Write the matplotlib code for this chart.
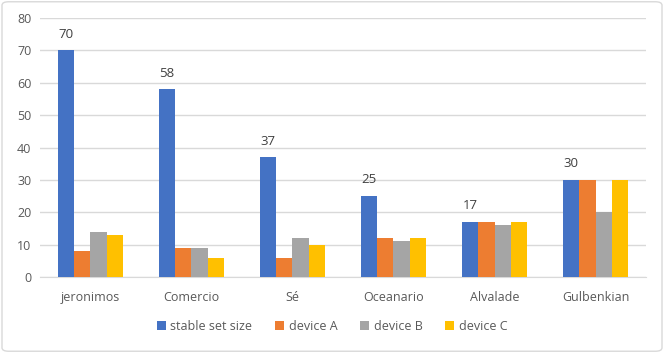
import matplotlib
matplotlib.use("Agg")
import matplotlib.pyplot as plt
import numpy as np
from matplotlib.patches import FancyBboxPatch

categories = ["jeronimos", "Comercio", "Sé", "Oceanario", "Alvalade", "Gulbenkian"]
stable = [70, 58, 37, 25, 17, 30]
device_a = [8, 9, 6, 12, 17, 30]
device_b = [14, 9, 12, 11, 16, 20]
device_c = [13, 6, 10, 12, 17, 30]
series_names = ["stable set size", "device A", "device B", "device C"]
colors = ["#4472C4", "#ED7D31", "#A5A5A5", "#FFC000"]
yticks = [0, 10, 20, 30, 40, 50, 60, 70, 80]

plt.rcParams['font.family'] = ['Open Sans', 'DejaVu Sans']
txt = "#595959"

fig = plt.figure(figsize=(6.64, 3.53), dpi=100)
ax = fig.add_axes([0.060, 0.215, 0.913, 0.734])

x = np.arange(len(categories))
w = 0.16
all_series = [stable, device_a, device_b, device_c]
for i, (vals, name, c) in enumerate(zip(all_series, series_names, colors)):
    bars = ax.bar(x + (i - 1.5) * w, vals, w, color=c, label=name, zorder=3)
    if i == 0:
        for b, v in zip(bars, vals):
            ax.text(b.get_x() + b.get_width() / 2, v + 3, str(v), ha="center", va="bottom",
                    fontsize=9.5, color="#404040")

ax.set_xlim(-0.5, len(categories) - 0.5)
ax.set_ylim(0, 80)
ax.set_yticks(yticks)
ax.set_xticks(x)
ax.set_xticklabels(categories)
ax.yaxis.grid(True, color="#D9D9D9", linewidth=1, zorder=0)
for s in ["top", "right", "left"]:
    ax.spines[s].set_visible(False)
ax.spines["bottom"].set_color("#D9D9D9")
ax.tick_params(axis="both", length=0, labelsize=9, colors=txt, pad=6)
ax.tick_params(axis="x", pad=10)

leg = fig.legend(loc="center", bbox_to_anchor=(0.5, 0.075), ncol=4, frameon=False,
                 fontsize=9, handlelength=0.7, handleheight=0.7, columnspacing=1.8,
                 handletextpad=0.4)
for t in leg.get_texts():
    t.set_color(txt)

border = FancyBboxPatch((0.003, 0.005), 0.994, 0.99, boxstyle="round,pad=0,rounding_size=0.01",
                        transform=fig.transFigure, fill=False, edgecolor="#D9D9D9", linewidth=1)
fig.patches.append(border)

fig.savefig("out.png", dpi=100)
